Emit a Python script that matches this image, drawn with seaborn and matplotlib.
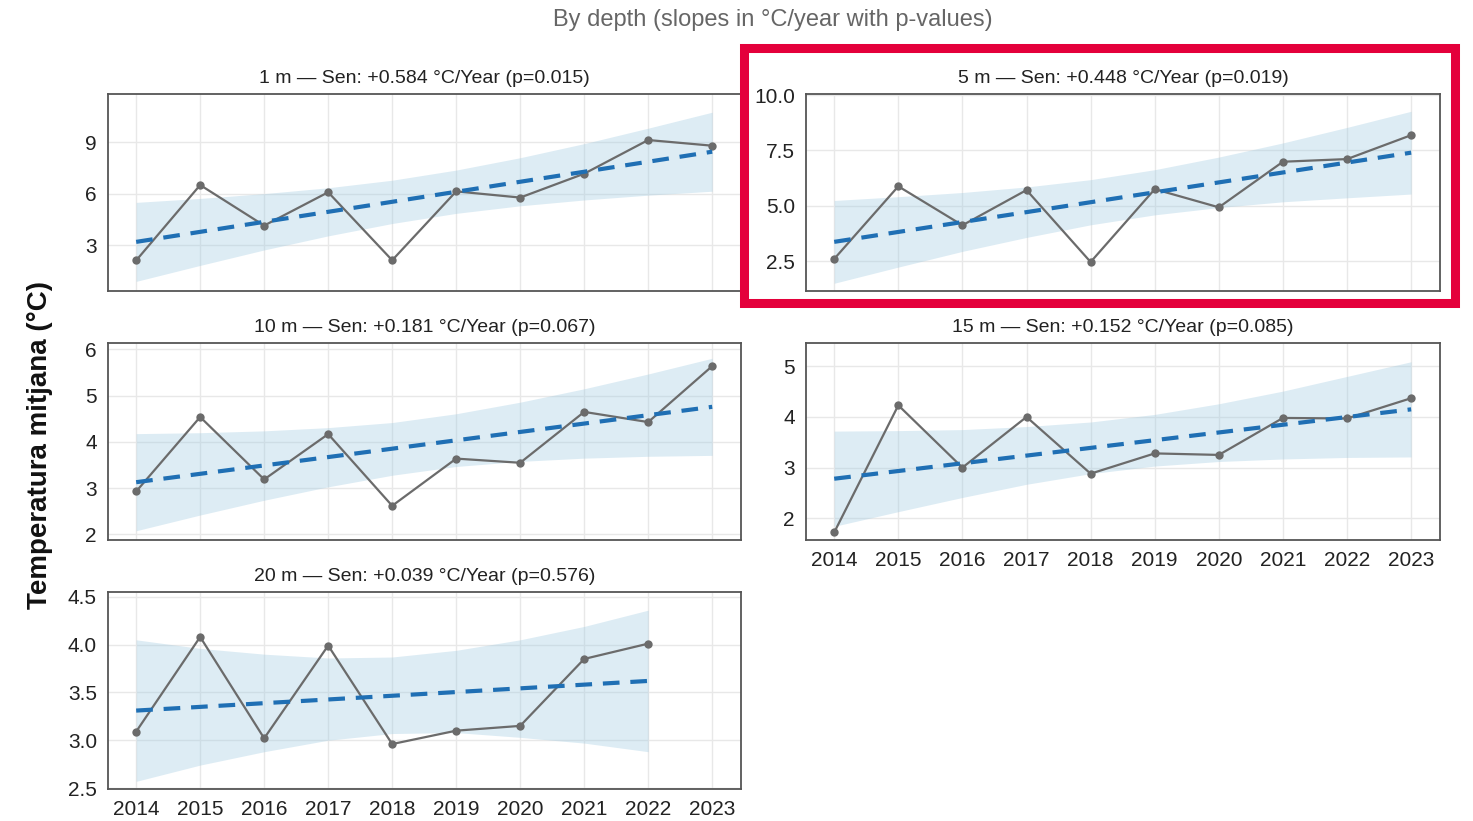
import pandas as pd
import seaborn as sns
import matplotlib
matplotlib.use("Agg")
import matplotlib.pyplot as plt
from matplotlib.patches import Rectangle

# values
years = [2014, 2015, 2016, 2017, 2018, 2019, 2020, 2021, 2022, 2023]
years_20m = years[:-1]

temp_1m = [2.11, 6.50, 4.14, 6.08, 2.12, 6.13, 5.77, 7.16, 9.12, 8.79]
temp_5m = [2.60, 5.88, 4.12, 5.71, 2.46, 5.75, 4.93, 6.99, 7.11, 8.19]
temp_10m = [2.93, 4.54, 3.19, 4.17, 2.62, 3.64, 3.55, 4.65, 4.43, 5.64]
temp_15m = [1.72, 4.23, 3.00, 4.00, 2.88, 3.28, 3.25, 3.98, 3.97, 4.37]
temp_20m = [3.09, 4.08, 3.02, 3.99, 2.96, 3.10, 3.15, 3.85, 4.01]

# Sen trend lines (start / end value)
trend_1m = [3.19, 8.44]
trend_5m = [3.37, 7.40]
trend_10m = [3.13, 4.76]
trend_15m = [2.78, 4.15]
trend_20m = [3.31, 3.62]

# confidence band edges
low_1m = [0.89, 1.82, 2.72, 3.54, 4.26, 4.85, 5.29, 5.63, 5.91, 6.14]
up_1m = [5.49, 5.72, 6.00, 6.34, 6.78, 7.37, 8.09, 8.91, 9.81, 10.74]
low_5m = [1.50, 2.23, 2.94, 3.57, 4.14, 4.59, 4.92, 5.18, 5.36, 5.53]
up_5m = [5.24, 5.41, 5.60, 5.85, 6.18, 6.63, 7.20, 7.84, 8.54, 9.27]
low_10m = [2.08, 2.42, 2.74, 3.03, 3.28, 3.47, 3.58, 3.65, 3.69, 3.71]
up_10m = [4.18, 4.20, 4.24, 4.31, 4.42, 4.61, 4.86, 5.15, 5.47, 5.81]
low_15m = [1.84, 2.13, 2.41, 2.67, 2.88, 3.03, 3.12, 3.17, 3.20, 3.21]
up_15m = [3.72, 3.73, 3.75, 3.81, 3.90, 4.05, 4.26, 4.51, 4.80, 5.09]
low_20m = [2.57, 2.74, 2.88, 3.00, 3.07, 3.08, 3.03, 2.97, 2.88]
up_20m = [4.05, 3.96, 3.90, 3.86, 3.87, 3.94, 4.05, 4.19, 4.36]

titles = [
    "1 m \u2014 Sen: +0.584 \u00b0C/Year (p=0.015)",
    "5 m \u2014 Sen: +0.448 \u00b0C/Year (p=0.019)",
    "10 m \u2014 Sen: +0.181 \u00b0C/Year (p=0.067)",
    "15 m \u2014 Sen: +0.152 \u00b0C/Year (p=0.085)",
    "20 m \u2014 Sen: +0.039 \u00b0C/Year (p=0.576)",
]

sns.set_theme(style="whitegrid")
plt.rcParams["font.family"] = ["Liberation Sans", "DejaVu Sans"]

W, H = 1473, 821
fig = plt.figure(figsize=(W / 100, H / 100), dpi=100)


def add_panel(x0, y0, x1, y1):
    return fig.add_axes([x0 / W, 1 - y1 / H, (x1 - x0) / W, (y1 - y0) / H])


panels = [
    (add_panel(108, 94, 741, 291), years, temp_1m, trend_1m, low_1m, up_1m, (0.33, 11.8), [3, 6, 9], "{:.0f}", False),
    (add_panel(806, 94, 1440, 291), years, temp_5m, trend_5m, low_5m, up_5m, (1.15, 10.05), [2.5, 5.0, 7.5, 10.0], "{:.1f}", False),
    (add_panel(108, 343, 741, 540), years, temp_10m, trend_10m, low_10m, up_10m, (1.88, 6.14), [2, 3, 4, 5, 6], "{:.0f}", False),
    (add_panel(806, 343, 1440, 540), years, temp_15m, trend_15m, low_15m, up_15m, (1.57, 5.46), [2, 3, 4, 5], "{:.0f}", True),
    (add_panel(108, 592, 741, 789), years_20m, temp_20m, trend_20m, low_20m, up_20m, (2.49, 4.55), [2.5, 3.0, 3.5, 4.0, 4.5], "{:.1f}", True),
]

for (ax, yrs, temp, trend, low, up, ylim, yticks, fmt, show_x), title in zip(panels, titles):
    ax.fill_between(yrs, low, up, color="#9ecae1", alpha=0.35, linewidth=0, zorder=1)
    df = pd.DataFrame({"year": yrs, "temp": temp})
    sns.lineplot(data=df, x="year", y="temp", ax=ax, color="#6b6b6b", linewidth=1.6,
                 marker="o", markersize=6, markeredgewidth=0, zorder=3)
    tr = pd.DataFrame({"year": [yrs[0], yrs[-1]], "trend": trend})
    sns.lineplot(data=tr, x="year", y="trend", ax=ax, color="#1f6fb4", linewidth=3,
                 linestyle=(0, (4, 2.6)), zorder=4)
    ax.set_xlim(2013.56, 2023.45)
    ax.set_ylim(*ylim)
    ax.set_xticks(years)
    ax.set_yticks(yticks)
    ax.set_yticklabels([fmt.format(v) for v in yticks])
    if show_x:
        ax.set_xticklabels([str(y) for y in years])
    else:
        ax.set_xticklabels([])
    ax.set_xlabel("")
    ax.set_ylabel("")
    ax.grid(True, color="#e8e8e8", linewidth=1)
    ax.tick_params(length=0, labelsize=15, colors="#222222", pad=8)
    for sp in ax.spines.values():
        sp.set_color("#555555")
        sp.set_linewidth(1.3)
    ax.set_title(title, fontsize=14, color="#222222", pad=8)

fig.text(773 / W, 1 - 20 / H, "By depth (slopes in \u00b0C/year with p-values)",
         ha="center", va="center", fontsize=17, color="#666666")
fig.text(40 / W, 1 - 445 / H, "Temperatura mitjana (\u00b0C)", rotation=90,
         ha="center", va="center", fontsize=20, fontweight="bold", color="#111111")

# highlight box around the 5 m panel
fig.patches.append(Rectangle((743.5 / W, 1 - 303.5 / H), (1454.5 - 743.5) / W, (303.5 - 48.5) / H,
                             transform=fig.transFigure, fill=False, edgecolor="#e4003b",
                             linewidth=6.5, zorder=10))

fig.savefig("out.png", dpi=100)
